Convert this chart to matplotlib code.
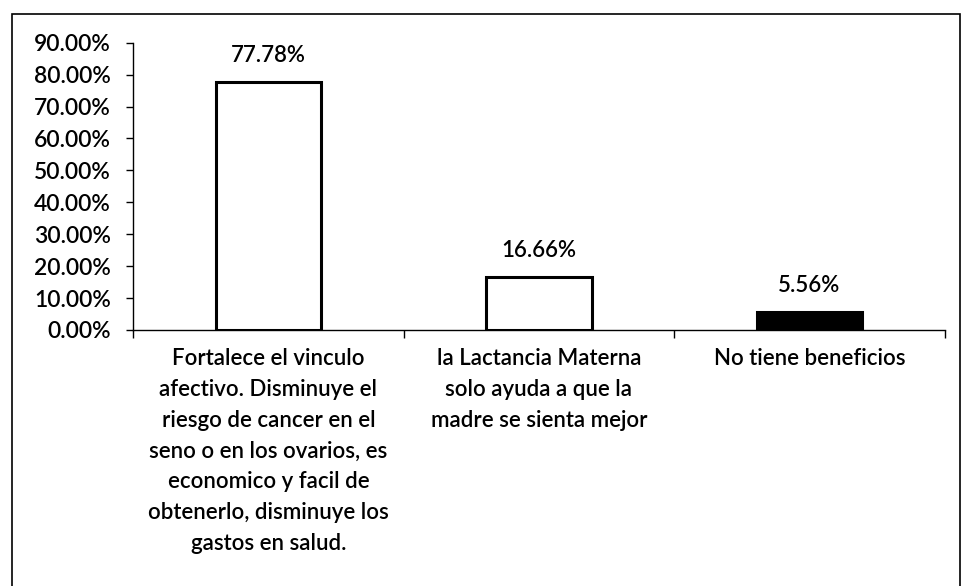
import matplotlib.pyplot as plt
from matplotlib.patches import Rectangle
from matplotlib.ticker import FuncFormatter

categorias = [
    "Fortalece el vinculo\nafectivo. Disminuye el\nriesgo de cancer en el\nseno o en los ovarios, es\neconomico y facil de\nobtenerlo, disminuye los\ngastos en salud.",
    "la Lactancia Materna\nsolo ayuda a que la\nmadre se sienta mejor",
    "No tiene beneficios",
]
valores = [77.78, 16.66, 5.56]
etiquetas = ["77.78%", "16.66%", "5.56%"]
colores = ["white", "white", "black"]

plt.rcParams['font.family'] = ['Lato', 'DejaVu Sans']
plt.rcParams['font.weight'] = 'semibold'

fig = plt.figure(figsize=(9.65, 5.86), dpi=100)
ax = fig.add_axes([0.138, 0.437, 0.841, 0.490])

x = list(range(len(valores)))
ax.bar(x, valores, width=0.39, color=colores, edgecolor="black", linewidth=2.2)

for xi, v, t in zip(x, valores, etiquetas):
    ax.annotate(t, (xi, v), xytext=(0, 19), textcoords="offset points",
                ha="center", va="center", fontsize=16)

ax.set_xlim(-0.5, len(valores) - 0.5)
ax.set_ylim(0, 90)
ax.set_yticks(range(0, 91, 10))
ax.yaxis.set_major_formatter(FuncFormatter(lambda v, p: f"{v:.2f}%"))
ax.tick_params(axis="y", labelsize=16.5, direction="out", length=5, width=1, pad=11)

ax.set_xticks(x)
ax.set_xticklabels(categorias, fontsize=16, linespacing=1.58)
ax.set_xticks([i + 0.5 for i in range(-1, len(valores))], minor=True)
ax.tick_params(axis="x", which="major", length=0, pad=13)
ax.tick_params(axis="x", which="minor", direction="out", length=6, width=1)

for s in ["top", "right"]:
    ax.spines[s].set_visible(False)
ax.spines["left"].set_linewidth(1)
ax.spines["bottom"].set_linewidth(1)

# marco exterior
fig.patches.append(Rectangle((12 / 965, -0.05), (960 - 12) / 965, 1.05 - 14 / 586,
                             transform=fig.transFigure, fill=False,
                             edgecolor="black", linewidth=1.2))

fig.savefig("out.png", dpi=100)
